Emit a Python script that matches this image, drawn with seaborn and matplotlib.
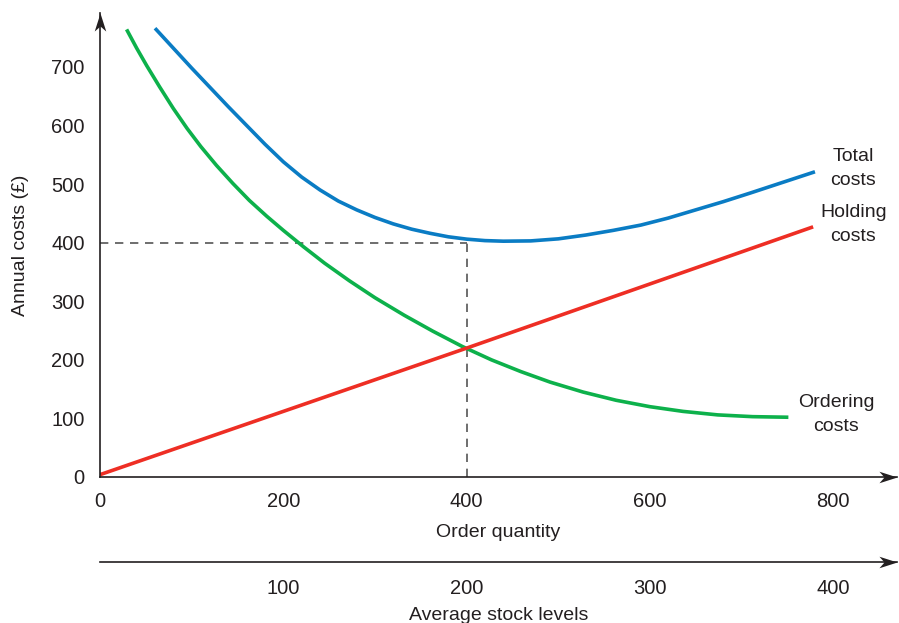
import seaborn as sns
import matplotlib.pyplot as plt
import pandas as pd
from matplotlib.path import Path

sns.set_style("white")
plt.rcParams['font.family'] = ['Liberation Sans', 'DejaVu Sans']
plt.rcParams['text.color'] = '#231f20'
plt.rcParams['axes.labelcolor'] = '#231f20'
plt.rcParams['xtick.color'] = '#231f20'
plt.rcParams['ytick.color'] = '#231f20'

# Values (order quantity, annual cost in £)
order_q = [29, 40, 51, 65, 80, 95, 110, 127, 145, 163, 182, 200, 222, 245, 272,
           300, 332, 363, 395, 427, 459, 491, 527, 563, 600, 636, 674, 712, 751]
ordering = [764, 732, 702, 666, 629, 595, 564, 532, 501, 472, 445, 421, 393, 365, 335,
            306, 276, 249, 223, 200, 180, 162, 145, 131, 120, 112, 106, 103, 102]

total_q = [60, 80, 100, 120, 140, 160, 180, 200, 220, 240, 260, 280, 300, 320, 340,
           360, 380, 400, 420, 440, 470, 500, 530, 560, 590, 620, 650, 680, 710, 745, 780]
total = [766, 732, 698, 665, 632, 600, 568, 538, 512, 490, 471, 456, 443, 432, 423,
         416, 410, 406, 403.5, 402.5, 403, 406.5, 413, 421, 430, 442, 456, 470, 485, 503, 521]

holding_q = [0, 400, 778]
holding = [4, 220, 427]

eoq = 400
min_cost = 400

x_ticks = [0, 200, 400, 600, 800]
y_ticks = [0, 100, 200, 300, 400, 500, 600, 700]
stock_ticks = [100, 200, 300, 400]

blue = '#0a7cc4'
green = '#0db14b'
red = '#ee2e24'
ink = '#231f20'

fig = plt.figure(figsize=(8.99, 6.23), dpi=100)
ax = fig.add_axes([100 / 899, 1 - 477 / 623, 797 / 899, 464 / 623])

df_o = pd.DataFrame({'q': order_q, 'cost': ordering})
df_t = pd.DataFrame({'q': total_q, 'cost': total})
df_h = pd.DataFrame({'q': holding_q, 'cost': holding})

# dashed guide lines at the optimum
ax.plot([0, eoq], [min_cost, min_cost], ls=(0, (5, 4)), color='#555555', lw=1.2, zorder=1)
ax.plot([eoq, eoq], [0, min_cost], ls=(0, (5, 4)), color='#555555', lw=1.2, zorder=1)

sns.lineplot(data=df_o, x='q', y='cost', ax=ax, color=green, lw=2.6, solid_capstyle='butt')
sns.lineplot(data=df_t, x='q', y='cost', ax=ax, color=blue, lw=2.6, solid_capstyle='butt')
sns.lineplot(data=df_h, x='q', y='cost', ax=ax, color=red, lw=2.6, solid_capstyle='butt')

ax.set_xlim(0, 869.5)
ax.set_ylim(0, 792)
ax.set_xticks(x_ticks)
ax.set_yticks(y_ticks)
ax.tick_params(axis='both', labelsize=14.5, length=6, width=1.2, direction='out', pad=5)
ax.set_xlabel('Order quantity', fontsize=14, labelpad=9)
ax.set_ylabel('Annual costs (£)', fontsize=14, labelpad=16)

for side in ['top', 'right']:
    ax.spines[side].set_visible(False)
for side in ['left', 'bottom']:
    ax.spines[side].set_color(ink)
    ax.spines[side].set_linewidth(1.2)

# notched arrow heads at the ends of the axes
right_head = Path([(0, 0), (-1, 0.32), (-0.72, 0), (-1, -0.32), (0, 0)],
                  [Path.MOVETO, Path.LINETO, Path.LINETO, Path.LINETO, Path.CLOSEPOLY])
up_head = Path([(0, 0), (-0.32, -1), (0, -0.72), (0.32, -1), (0, 0)],
               [Path.MOVETO, Path.LINETO, Path.LINETO, Path.LINETO, Path.CLOSEPOLY])
sec_y = -0.1832
ax.plot([1], [0], marker=right_head, ms=26, color=ink, mew=0, transform=ax.transAxes, clip_on=False)
ax.plot([0], [1], marker=up_head, ms=26, color=ink, mew=0, transform=ax.transAxes, clip_on=False)
ax.plot([1], [sec_y], marker=right_head, ms=26, color=ink, mew=0, transform=ax.transAxes, clip_on=False)

# second scale: average stock level = order quantity / 2
sec = ax.secondary_xaxis(sec_y, functions=(lambda x: x / 2, lambda x: x * 2))
sec.set_xticks(stock_ticks)
sec.tick_params(axis='x', labelsize=14.5, length=0, pad=12)
sec.spines['bottom'].set_color(ink)
sec.spines['bottom'].set_linewidth(1.2)
sec.set_xlabel('Average stock levels', fontsize=14, labelpad=7)

# curve labels
ax.text(822, 527, 'Total\ncosts', fontsize=14, ha='center', va='center', linespacing=1.5)
ax.text(822, 431, 'Holding\ncosts', fontsize=14, ha='center', va='center', linespacing=1.5)
ax.text(803, 107, 'Ordering\ncosts', fontsize=14, ha='center', va='center', linespacing=1.5)

fig.savefig('out.png', dpi=100)
